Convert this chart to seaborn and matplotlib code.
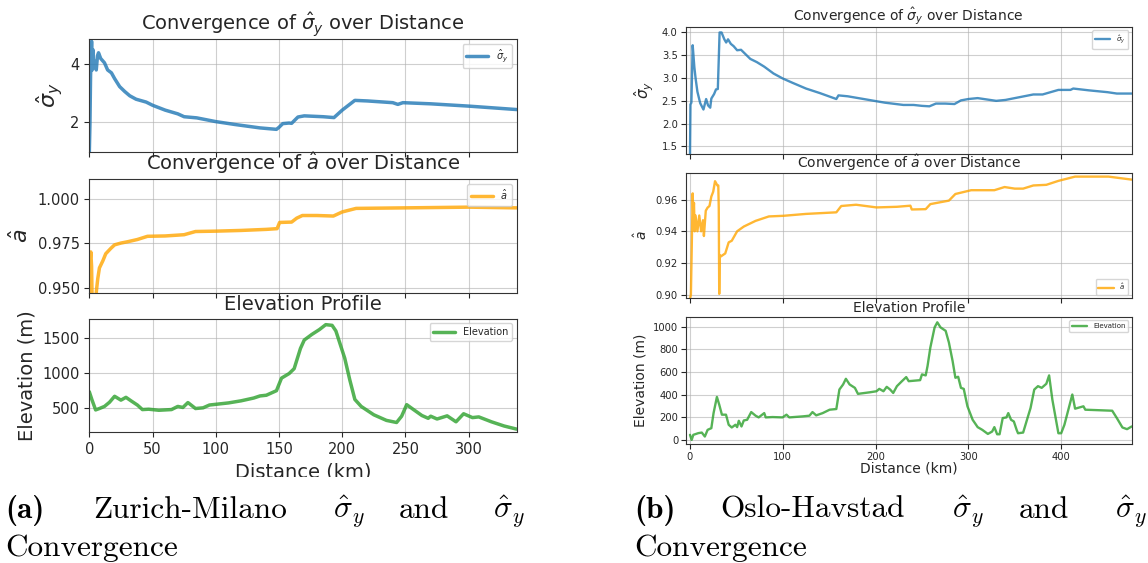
import pandas as pd
import matplotlib
matplotlib.use("Agg")
import matplotlib.pyplot as plt
import seaborn as sns
from matplotlib.patches import Rectangle

# ---------------- Zurich-Milano ----------------
zm_sigma_km = [0, 0.5, 1.0, 1.8, 2.3, 3.0, 3.5, 4.5, 5.5, 6.5, 7.3, 9.0, 12.0, 14.5, 17.5, 20.0,
               24.0, 28.0, 32.0, 37.0, 45.0, 50.0, 60.0, 70.0, 75.0, 85.0, 100.0, 115.0, 125.0,
               135.0, 148.0, 150.0, 153.0, 158.0, 160.0, 165.0, 170.0, 185.0, 193.5, 200.0, 210.0,
               220.0, 240.0, 244.0, 248.0, 270.0, 300.0, 338.0]
zm_sigma = [0.9, 1.9, 3.6, 4.8, 3.8, 4.5, 3.9, 4.1, 3.8, 4.3, 4.4, 4.2, 4.05, 3.8, 3.7, 3.5,
            3.22, 3.05, 2.9, 2.78, 2.68, 2.57, 2.4, 2.27, 2.17, 2.13, 2.0, 1.9, 1.84,
            1.78, 1.73, 1.8, 1.93, 1.95, 1.94, 2.16, 2.2, 2.17, 2.14, 2.4, 2.74,
            2.72, 2.66, 2.6, 2.66, 2.62, 2.54, 2.42]

zm_a_km = [0, 0.6, 1.2, 1.8, 2.3, 5.0, 5.6, 6.7, 8.0, 10.7, 13.0, 17.0, 20.0, 25.0, 30.0, 38.0,
           46.0, 60.0, 75.0, 84.0, 100.0, 120.0, 140.0, 148.5, 150.5, 160.0, 164.0, 168.5, 180.0,
           193.0, 200.0, 211.0, 250.0, 300.0, 338.0]
zm_a = [0.94, 0.965, 0.970, 0.962, 0.94, 0.94, 0.948, 0.955, 0.961, 0.965, 0.969, 0.972, 0.974,
        0.975, 0.9757, 0.977, 0.9788, 0.979, 0.9797, 0.9815, 0.9817, 0.9821, 0.9827, 0.9831,
        0.9866, 0.9868, 0.989, 0.9905, 0.9905, 0.9902, 0.9925, 0.9945, 0.9948, 0.9952, 0.9948]

zm_elev_km = [0, 2, 5, 8, 12, 16, 20, 25, 29, 33, 38, 42, 47, 55, 65, 70, 74, 78, 84, 90, 95, 110,
              120, 130, 135, 140, 148, 152, 158, 162, 167, 170, 176, 182, 187, 192, 195, 202, 206,
              210, 215, 220, 225, 235, 243, 247, 251, 256, 263, 268, 270, 275, 283, 290, 296, 303,
              308, 318, 328, 338]
zm_elev = [730, 620, 470, 490, 520, 580, 665, 610, 650, 600, 540, 475, 480, 465, 475, 520, 505,
           575, 490, 500, 540, 570, 600, 640, 670, 680, 745, 925, 990, 1060, 1350, 1470, 1550,
           1620, 1690, 1680, 1600, 1210, 900, 620, 520, 460, 400, 320, 290, 380, 545, 480, 390,
           350, 380, 340, 385, 300, 415, 360, 370, 300, 240, 195]

# ---------------- Oslo-Havstad ----------------
oh_sigma_km = [0, 0.5, 1.5, 2.9, 4.7, 6, 8, 11, 14.5, 17.4, 19.5, 21.8, 23, 26, 28, 30, 31.9, 34,
               37, 39, 41, 44, 47, 50.8, 55, 60, 65, 72, 80, 90, 100, 110, 125, 140, 157.7, 160,
               170, 190, 210, 230, 241, 250, 258, 265, 275, 285, 292, 300, 310, 320, 330, 340,
               355, 370, 380, 397, 410, 413, 430, 450, 460, 476]
oh_sigma = [1.3, 2.42, 2.46, 3.72, 3.24, 3.0, 2.7, 2.45, 2.31, 2.54, 2.4, 2.35, 2.55, 2.65, 2.75,
            2.76, 4.0, 4.0, 3.85, 3.78, 3.85, 3.75, 3.7, 3.61, 3.62, 3.52, 3.42, 3.35, 3.25, 3.1,
            2.99, 2.9, 2.77, 2.67, 2.54, 2.62, 2.6, 2.53, 2.46, 2.41, 2.41, 2.39, 2.38, 2.44,
            2.44, 2.43, 2.51, 2.54, 2.56, 2.53, 2.5, 2.52, 2.58, 2.64, 2.64, 2.74, 2.74, 2.77,
            2.73, 2.69, 2.66, 2.66]

oh_a_km = [0, 1, 2.9, 3.5, 4.3, 5, 6, 8, 10, 12, 14, 15, 17, 19, 21, 23, 25, 27, 29.5, 30.5, 31,
           31.5, 32, 33, 38, 41.7, 45, 50.8, 58, 70.7, 85, 100.8, 125, 157.7, 163, 179, 201, 223,
           237.5, 239, 254, 259, 279, 286, 303, 328, 339, 350, 359, 370, 384, 397, 415, 451, 476]
oh_a = [0.897, 0.90, 0.964, 0.95, 0.958, 0.94, 0.95, 0.94, 0.95, 0.94, 0.947, 0.937, 0.953,
        0.955, 0.956, 0.962, 0.965, 0.9717, 0.969, 0.969, 0.955, 0.9004, 0.925, 0.924, 0.926,
        0.933, 0.934, 0.940, 0.943, 0.9466, 0.9494, 0.9498, 0.951, 0.952, 0.956, 0.9568,
        0.9551, 0.9555, 0.9562, 0.9538, 0.954, 0.9572, 0.9594, 0.9636, 0.966, 0.966, 0.968,
        0.967, 0.967, 0.969, 0.9694, 0.9719, 0.9746, 0.9746, 0.9727]

oh_elev_km = [0, 1.8, 3.6, 9, 12.7, 16, 19, 23, 25.4, 29,
              31.5, 34.4, 38.8, 41.7, 45, 49, 50.8, 52.6, 55.5, 58,
              61.6, 66, 70.7, 74, 80, 81.6, 89, 99.7, 104, 107,
              121.5, 128.7, 132, 136, 143, 150.5, 157.7, 161, 165, 168,
              172, 177.7, 181, 194, 201, 204, 208.5, 212, 215.7, 219,
              223, 228.4, 233, 235.7, 248, 250, 254, 256, 259, 263.6,
              266.5, 270, 275.5, 279, 283, 286, 289, 292, 295, 299,
              304.6, 310, 315, 321, 325.6, 328, 331, 333.6, 337, 341,
              343, 346, 349, 352, 353.5, 359, 361, 363.7, 367, 371,
              375, 379, 384, 387, 390.5, 397, 400, 403.5, 412, 415,
              424, 426, 455, 460, 466, 471, 476]
oh_elev = [45, 0, 45, 60, 65, 30, 89, 104, 237, 380,
           312, 223, 223, 134, 110, 134, 113, 169, 119, 172,
           178, 246, 214, 199, 237, 199, 202, 199, 223, 199,
           208, 214, 246, 217, 237, 267, 273, 445, 490, 540,
           490, 460, 407, 421, 430, 451, 430, 469, 445, 415,
           475, 519, 555, 519, 528, 579, 570, 653, 816, 994,
           1039, 994, 964, 861, 697, 549, 558, 460, 451, 297,
           178, 113, 89, 53, 74, 113, 50, 50, 193, 199,
           237, 178, 163, 89, 59, 65, 119, 193, 282, 445,
           475, 460, 496, 570, 356, 59, 59, 134, 401, 276,
           297, 267, 258, 193, 110, 95, 119]

# ---------------- figure ----------------
W, H = 1148, 563
sns.set_style("ticks")
plt.rcParams["font.family"] = ["DejaVu Sans"]

fig = plt.figure(figsize=(W / 100, H / 100), dpi=100)


def box(l, t, r, b):
    return [l / W, 1 - b / H, (r - l) / W, (b - t) / H]


def panel(ax, km, vals, color, label, lw, title, ylabel, xlim, ylim, yticks,
          title_fs, label_fs, tick_fs, leg_fs, leg_loc, show_x, xticks,
          xlabel_fs=None, title_pad=6, tick_pad=3.5, xlabel_pad=4):
    df = pd.DataFrame({"km": km, "val": vals})
    sns.lineplot(data=df, x="km", y="val", ax=ax, color=color, lw=lw, alpha=0.8,
                 label=label, estimator=None, sort=False)
    ax.set_xlim(*xlim)
    ax.set_ylim(*ylim)
    ax.set_yticks(yticks)
    ax.set_xticks(xticks)
    ax.grid(True, color="#b0b0b0", lw=0.8, alpha=0.6)
    ax.set_title(title, fontsize=title_fs, pad=title_pad)
    ax.set_ylabel(ylabel, fontsize=label_fs)
    ax.tick_params(labelsize=tick_fs, length=3.5, width=0.8, pad=tick_pad)
    for s in ax.spines.values():
        s.set_linewidth(0.8)
        s.set_color("0.2")
    if show_x:
        ax.set_xlabel("Distance (km)", fontsize=xlabel_fs, labelpad=xlabel_pad)
    else:
        ax.set_xlabel("")
        ax.tick_params(labelbottom=False)
    ax.legend(loc=leg_loc, fontsize=leg_fs, handlelength=2.2)


# left column: Zurich-Milano
L_l, L_r = 89.3, 516.7
zx = (0, 338)
zticks = [0, 50, 100, 150, 200, 250, 300]
axA = fig.add_axes(box(L_l, 39, L_r, 152))
axB = fig.add_axes(box(L_l, 178.7, L_r, 292.5))
axC = fig.add_axes(box(L_l, 318.5, L_r, 432))
panel(axA, zm_sigma_km, zm_sigma, "tab:blue", r"$\hat{\sigma}_y$", 2.5,
      r"Convergence of $\hat{\sigma}_y$ over Distance", r"$\hat{\sigma}_y$",
      zx, (0.94, 4.88), [2, 4], 14, 16, 10.5, 7, "upper right", False, zticks)
panel(axB, zm_a_km, zm_a, "orange", r"$\hat{a}$", 2.5,
      r"Convergence of $\hat{a}$ over Distance", r"$\hat{a}$",
      zx, (0.9472, 1.0112), [0.950, 0.975, 1.000], 14, 16, 10.5, 7, "upper right", False, zticks)
axB.yaxis.set_major_formatter(matplotlib.ticker.FormatStrFormatter("%.3f"))
panel(axC, zm_elev_km, zm_elev, "tab:green", "Elevation", 2.5,
      "Elevation Profile", "Elevation (m)",
      zx, (154, 1778), [500, 1000, 1500], 14, 14, 10.5, 7, "upper right", True, zticks, 14)

# right column: Oslo-Havstad
R_l, R_r = 686, 1131.7
ox = (-4.3, 476)
oticks = [0, 100, 200, 300, 400]
axD = fig.add_axes(box(R_l, 27, R_r, 153.5))
axE = fig.add_axes(box(R_l, 172.5, R_r, 298.3))
axF = fig.add_axes(box(R_l, 317, R_r, 444))
panel(axD, oh_sigma_km, oh_sigma, "tab:blue", r"$\hat{\sigma}_y$", 1.7,
      r"Convergence of $\hat{\sigma}_y$ over Distance", r"$\hat{\sigma}_y$",
      ox, (1.345, 4.12), [1.5, 2.0, 2.5, 3.0, 3.5, 4.0], 10, 11, 7.2, 5, "upper right", False,
      oticks, title_pad=3.5, tick_pad=2.5)
axD.yaxis.set_major_formatter(matplotlib.ticker.FormatStrFormatter("%.1f"))
panel(axE, oh_a_km, oh_a, "orange", r"$\hat{a}$", 1.7,
      r"Convergence of $\hat{a}$ over Distance", r"$\hat{a}$",
      ox, (0.8976, 0.9772), [0.90, 0.92, 0.94, 0.96], 10, 10, 7.2, 5, "lower right", False,
      oticks, title_pad=3.5, tick_pad=2.5)
axE.yaxis.set_major_formatter(matplotlib.ticker.FormatStrFormatter("%.2f"))
panel(axF, oh_elev_km, oh_elev, "tab:green", "Elevation", 1.7,
      "Elevation Profile", "Elevation (m)",
      ox, (-36, 1086), [0, 200, 400, 600, 800, 1000], 10, 10, 7.2, 5, "upper right", True,
      oticks, 10, title_pad=3.5, tick_pad=2, xlabel_pad=0)

# caption band (covers the lower edge of the distance labels)
fig.add_artist(Rectangle((0, 0), 1, 1 - 477 / H, transform=fig.transFigure,
                         facecolor="white", edgecolor="none", zorder=5))

cap_fs = 22.5


def word(x, base, s, family="cmr10", math=False):
    kw = dict(fontsize=cap_fs, va="baseline", ha="left", zorder=10, color="black")
    if math:
        fig.text(x / W, 1 - base / H, s, math_fontfamily="cm", **kw)
    else:
        fig.text(x / W, 1 - base / H, s, family=family, **kw)


sig = r"$\hat{\sigma}_y$"
for x0, tag, route, xs in [(5, "(a)", "Zurich-Milano", (93, 333, 399, 493)),
                           (634, "(b)", "Oslo-Havstad", (720, 952, 1019, 1115))]:
    word(x0, 518, tag, family="cmb10")
    word(xs[0], 518, route)
    word(xs[1], 518, sig, math=True)
    word(xs[2], 518, "and")
    word(xs[3], 518, sig, math=True)
    word(x0, 556, "Convergence")

fig.savefig("out.png", dpi=100)
